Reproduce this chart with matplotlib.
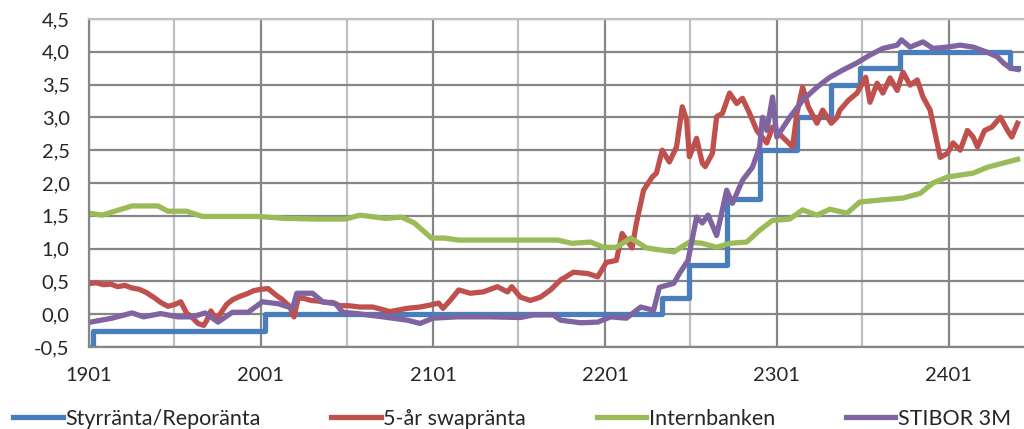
import matplotlib
matplotlib.use("Agg")
import matplotlib.pyplot as plt
import matplotlib.dates as mdates
import numpy as np
import pandas as pd

plt.rcParams['font.family'] = ['Lato', 'DejaVu Sans']

# tid anges i månader från 2019-01-01
start = pd.Timestamp('2019-01-01')

# Styrränta/Reporänta (trappsteg)
repo_m = [0.0, 0.25, 12.3, 40.0, 41.9, 44.5, 46.8, 49.4, 51.8, 53.8, 56.6, 64.3, 64.8]
repo_v = [-0.50, -0.25, 0.00, 0.25, 0.75, 1.75, 2.50, 3.00, 3.50, 3.75, 4.00, 3.75, 3.75]

# 5-år swapränta
swap_m = [0.1, 0.5, 1.0, 1.5, 2.0, 2.5, 3.0, 3.5, 4.0, 4.5, 5.0, 5.5, 6.0, 6.4, 6.8,
          7.2, 7.6, 8.0, 8.2, 8.5, 8.9, 9.2, 9.6, 10.0, 10.5, 11.0, 11.5, 12.0, 12.5,
          13.0, 13.5, 14.0, 14.3, 14.6, 15.0, 15.5, 16.0, 16.5, 17.0, 17.5,
          18.1, 18.9, 19.8, 21.0, 22.2, 23.1, 23.8, 24.4, 24.7, 25.2, 25.8, 26.6,
          27.5, 28.5, 29.2, 29.5, 30.1, 30.8, 31.5, 32.2, 32.9, 33.8, 34.8, 35.5,
          36.1, 36.8, 37.2, 37.9, 38.2, 38.7, 39.3, 39.6, 40.0, 40.5, 41.0, 41.4,
          41.7, 41.9, 42.4, 42.8, 43.0, 43.5, 43.8, 44.2, 44.7, 45.2, 45.6, 46.1,
          46.6, 47.3, 47.7, 48.4, 49.1, 49.4, 49.8, 50.2, 50.8, 51.2, 51.8, 52.2,
          52.4, 53.0, 53.6, 54.2, 54.5, 55.0, 55.4, 55.9, 56.4, 56.8, 57.3, 57.8,
          58.2, 58.7, 59.0, 59.4, 59.9, 60.3, 60.8, 61.3, 61.7, 62.0, 62.5, 63.0,
          63.6, 64.1, 64.4, 64.8]
swap_v = [0.47, 0.48, 0.45, 0.46, 0.42, 0.44, 0.40, 0.38, 0.33, 0.26, 0.18, 0.12, 0.15, 0.19, 0.02,
          -0.05, -0.14, -0.17, -0.10, 0.05, -0.08, 0.02, 0.15, 0.22, 0.27, 0.31, 0.36, 0.38, 0.39,
          0.30, 0.22, 0.12, -0.04, 0.25, 0.24, 0.21, 0.20, 0.18, 0.18, 0.13,
          0.13, 0.11, 0.11, 0.04, 0.09, 0.11, 0.14, 0.17, 0.09, 0.21, 0.37, 0.32,
          0.34, 0.42, 0.34, 0.42, 0.26, 0.21, 0.26, 0.37, 0.52, 0.64, 0.62, 0.57,
          0.79, 0.82, 1.23, 1.01, 1.39, 1.89, 2.09, 2.15, 2.50, 2.32, 2.55, 3.16,
          2.96, 2.40, 2.68, 2.30, 2.25, 2.45, 3.01, 3.06, 3.37, 3.21, 3.29, 3.06,
          2.80, 2.61, 2.85, 2.70, 2.55, 3.06, 3.46, 3.16, 2.91, 3.11, 2.91, 3.00,
          3.11, 3.26, 3.37, 3.61, 3.23, 3.52, 3.37, 3.60, 3.41, 3.69, 3.49, 3.57,
          3.31, 3.11, 2.80, 2.39, 2.45, 2.61, 2.50, 2.80, 2.70, 2.55, 2.80, 2.85,
          3.00, 2.80, 2.70, 2.91]

# Internbanken
intern_m = [0.0, 0.9, 3.0, 4.8, 5.5, 6.8, 7.9, 11.8, 13.7, 16.0, 17.9, 18.9, 20.7, 21.8,
            22.7, 23.9, 24.8, 25.8, 32.7, 33.7, 35.0, 35.9, 36.8, 37.8, 38.9, 40.8,
            41.9, 42.8, 43.8, 44.7, 45.9, 46.8, 47.7, 48.9, 49.8, 50.8, 51.7, 52.9,
            53.8, 55.2, 56.8, 58.0, 58.9, 59.9, 61.7, 62.7, 64.8]
intern_v = [1.54, 1.51, 1.65, 1.65, 1.57, 1.57, 1.49, 1.49, 1.46, 1.45, 1.45, 1.51, 1.46, 1.48,
            1.39, 1.16, 1.16, 1.13, 1.13, 1.08, 1.10, 1.02, 1.02, 1.16, 1.01, 0.95,
            1.10, 1.08, 1.02, 1.08, 1.10, 1.28, 1.43, 1.45, 1.59, 1.51, 1.60, 1.54,
            1.71, 1.74, 1.77, 1.84, 2.00, 2.09, 2.15, 2.24, 2.36]

# STIBOR 3M
stibor_m = [0.1, 1.6, 3.0, 3.8, 5.0, 6.2, 7.2, 8.1, 9.0, 10.0, 11.1, 12.1, 13.2, 14.2,
            14.5, 15.6, 16.3, 17.2, 17.7, 18.7, 20.5, 22.2, 23.1, 24.0, 25.7, 28.0,
            30.1, 31.0, 32.4, 32.9, 34.3, 35.5, 36.4, 37.5, 38.5, 39.4, 39.8, 40.8,
            41.2, 41.8, 42.4, 42.8, 43.2, 43.8, 44.5, 44.9, 45.6, 46.3, 46.8, 47.0,
            47.3, 47.7, 48.0, 48.9, 49.8, 50.8, 51.7, 52.6, 53.6, 54.5, 55.4, 56.4,
            56.7, 57.3, 58.2, 58.9, 59.9, 60.8, 61.7, 62.7, 63.4, 63.8, 64.3, 64.8]
stibor_v = [-0.12, -0.06, 0.02, -0.04, 0.01, -0.04, -0.04, 0.02, -0.12, 0.03, 0.03, 0.19, 0.16, 0.09,
            0.32, 0.32, 0.19, 0.16, 0.03, 0.01, -0.04, -0.09, -0.14, -0.06, -0.04, -0.04,
            -0.05, -0.01, -0.01, -0.09, -0.13, -0.12, -0.04, -0.06, 0.11, 0.06, 0.41, 0.47,
            0.62, 0.82, 1.48, 1.39, 1.51, 1.20, 1.89, 1.69, 2.04, 2.24, 2.55, 3.00,
            2.80, 3.31, 2.70, 3.00, 3.26, 3.46, 3.61, 3.72, 3.83, 3.95, 4.05, 4.10,
            4.18, 4.07, 4.15, 4.05, 4.07, 4.10, 4.07, 3.99, 3.92, 3.83, 3.75, 3.73]

labels = ['Styrränta/Reporänta', '5-år swapränta', 'Internbanken', 'STIBOR 3M']
colors = ['#4a7ebb', '#c0504d', '#9bbb59', '#8064a2']


def to_dates(m):
    return start + pd.to_timedelta(np.array(m) * 30.4375, unit='D')


fig = plt.figure(figsize=(10.24, 4.29), dpi=100)
ax = fig.add_axes([0.087, 0.191, 0.913, 0.765])

lw = 3.8
ax.step(to_dates(repo_m), repo_v, where='post', color=colors[0], lw=lw, label=labels[0])
ax.plot(to_dates(swap_m), swap_v, color=colors[1], lw=lw, label=labels[1])
ax.plot(to_dates(intern_m), intern_v, color=colors[2], lw=lw, label=labels[2])
ax.plot(to_dates(stibor_m), stibor_v, color=colors[3], lw=lw, label=labels[3])

ax.set_ylim(-0.5, 4.5)
ax.set_yticks(np.arange(-0.5, 4.51, 0.5))
ax.yaxis.set_major_formatter(plt.FuncFormatter(lambda v, p: f'{v:.1f}'.replace('.', ',')))
ax.set_xlim(start, to_dates([65.25])[0])

ax.xaxis.set_major_locator(mdates.YearLocator())
ax.xaxis.set_minor_locator(mdates.MonthLocator(bymonth=7))
ax.xaxis.set_major_formatter(mdates.DateFormatter('%y%m'))

ax.grid(axis='y', color='#868686', lw=1.6)
ax.grid(axis='x', which='major', color='#868686', lw=1.6)
ax.grid(axis='x', which='minor', color='#c0c0c0', lw=1.6)
ax.set_axisbelow(True)

for s in ['left', 'bottom']:
    ax.spines[s].set_color('#868686')
    ax.spines[s].set_linewidth(1.6)
ax.spines['top'].set_color('#c0c0c0')
ax.spines['top'].set_linewidth(1.6)
ax.spines['right'].set_visible(False)

ax.tick_params(axis='both', which='both', length=0, labelsize=14.5, colors='#262626')
ax.tick_params(axis='y', pad=14)
ax.tick_params(axis='x', pad=14)

fig.legend(loc='center', bbox_to_anchor=(0.5, 0.024), ncol=4, frameon=False,
           fontsize=15.5, handlelength=2.3, handletextpad=0.1, columnspacing=3.3,
           labelcolor='#262626')

fig.savefig('out.png', dpi=100)
